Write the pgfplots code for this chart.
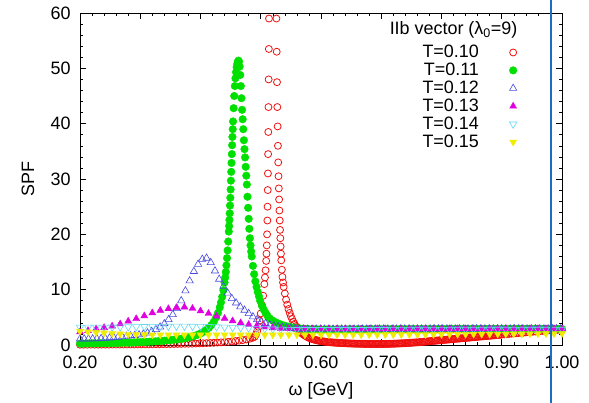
\documentclass[border=0pt]{standalone}
\usepackage{fontspec}
\setmainfont{Liberation Sans}
\usepackage{pgfplots}
\pgfplotsset{compat=1.18}
\definecolor{cRed}{HTML}{F01010}
\definecolor{cGreen}{HTML}{00E000}
\definecolor{cBlue}{HTML}{4848E0}
\definecolor{cMag}{HTML}{E000E0}
\definecolor{cCyan}{HTML}{60D8F0}
\definecolor{cYel}{HTML}{F0EC00}
\definecolor{cLine}{HTML}{1E6EC0}
\newcommand{\fs}{\fontsize{18}{18}\selectfont}
\begin{document}
\begin{tikzpicture}
\begin{axis}[
  scale only axis,
  width=482bp, height=332bp,
  xmin=0.2, xmax=1.0, ymin=0, ymax=60,
  xtick={0.2,0.3,0.4,0.5,0.6,0.7,0.8,0.9,1.0},
  ytick={0,10,20,30,40,50,60},
  minor x tick num=4, minor y tick num=4,
  tick align=inside,
  major tick length=6bp, minor tick length=3bp,
  tick style={black, line width=0.5pt},
  axis line style={black, line width=0.7pt},
  /pgf/number format/assume math mode=true,
  ticklabel style={font=\fs},
  xticklabel style={/pgf/number format/fixed, /pgf/number format/fixed zerofill,
    /pgf/number format/precision=2, yshift=-7bp},
  yticklabel style={xshift=-6bp},
  xlabel={ω [GeV]}, ylabel={SPF},
  label style={font=\fs},
  x label style={at={(axis description cs:0.5,-0.1386)}, anchor=center},
  y label style={at={(axis description cs:-0.1079,0.5)}, anchor=center},
  legend plot pos=right,
  legend cell align=right,
  legend image code/.code={\draw[#1] plot coordinates {(0bp,0bp)};},
  legend style={draw=none, fill=none, font=\fs, inner sep=0pt,
    at={(rel axis cs:0.907,0.9073)}, anchor=north east,
    nodes={inner sep=1.5bp}, row sep=0.9bp,
    /tikz/every odd column/.append style={column sep=29bp}},
]
% T=0.10
\addplot[only marks, mark=o, mark size=3.5bp, color=cRed, mark options={line width=0.8pt}] coordinates {
(0.200,0.05) (0.206,0.05) (0.212,0.05) (0.218,0.06) (0.224,0.06) (0.230,0.06) (0.236,0.07) (0.242,0.07)
(0.248,0.07) (0.254,0.08) (0.260,0.08) (0.266,0.08) (0.272,0.09) (0.278,0.09) (0.284,0.10) (0.290,0.10)
(0.296,0.11) (0.302,0.11) (0.308,0.12) (0.314,0.12) (0.320,0.13) (0.326,0.14) (0.332,0.14) (0.338,0.15)
(0.344,0.16) (0.350,0.17) (0.356,0.18) (0.362,0.19) (0.368,0.20) (0.374,0.22) (0.380,0.23) (0.386,0.25)
(0.392,0.27) (0.398,0.29) (0.404,0.31) (0.410,0.34) (0.416,0.37) (0.422,0.40) (0.428,0.44) (0.434,0.48)
(0.440,0.53) (0.446,0.58) (0.452,0.64) (0.458,0.71) (0.464,0.79) (0.470,0.88) (0.476,1.00) (0.482,1.15)
(0.486,1.30) (0.488,1.38) (0.490,1.50) (0.492,1.90) (0.494,2.50) (0.496,3.30) (0.498,4.40) (0.500,5.70)
(0.502,7.20) (0.504,8.90) (0.506,11.0) (0.507,12.2) (0.508,13.5) (0.509,15.2) (0.5095,16.5) (0.510,18.0)
(0.5105,20.0) (0.511,22.5) (0.5113,25.0) (0.5116,28.0) (0.5119,31.0) (0.5122,34.5) (0.5125,38.5)
(0.5128,43.0) (0.5131,48.0) (0.5134,53.5) (0.5137,59.0)
(0.5260,59.0) (0.5265,53.0) (0.5270,47.5) (0.5275,43.0) (0.5280,39.5) (0.5285,36.0) (0.5290,33.0)
(0.5295,30.5) (0.5300,28.3) (0.5305,26.3) (0.5310,24.3) (0.5315,22.5) (0.5320,20.8) (0.5325,19.3)
(0.5330,17.8) (0.5335,16.5) (0.5340,15.3) (0.535,13.6) (0.536,12.3) (0.537,11.3) (0.538,10.5) (0.540,9.3)
(0.542,8.2) (0.544,7.3) (0.546,6.5) (0.548,5.8) (0.550,5.2) (0.552,4.7) (0.554,4.2) (0.556,3.8)
(0.558,3.4) (0.560,3.1) (0.562,2.8) (0.564,2.55) (0.566,2.3) (0.568,2.1) (0.570,1.95) (0.572,1.8)
(0.574,1.65) (0.576,1.52) (0.578,1.40) (0.580,1.30) (0.582,1.21) (0.584,1.13) (0.586,1.06) (0.588,0.99)
(0.590,0.93) (0.592,0.88) (0.594,0.83) (0.596,0.78) (0.598,0.74) (0.600,0.70) (0.602,0.67) (0.604,0.64)
(0.606,0.61) (0.608,0.58) (0.610,0.55) (0.612,0.53) (0.614,0.51) (0.616,0.49) (0.618,0.47) (0.620,0.45)
(0.622,0.43) (0.624,0.42) (0.626,0.40) (0.628,0.39) (0.630,0.37) (0.632,0.36) (0.634,0.35) (0.636,0.34)
(0.638,0.33) (0.640,0.32) (0.642,0.31) (0.644,0.30) (0.646,0.29) (0.648,0.28) (0.650,0.27) (0.652,0.26)
(0.654,0.25) (0.656,0.25) (0.658,0.24) (0.660,0.23) (0.662,0.23) (0.664,0.22) (0.666,0.22) (0.668,0.21)
(0.670,0.21) (0.672,0.20) (0.674,0.20) (0.676,0.20) (0.678,0.19) (0.680,0.19) (0.682,0.19) (0.684,0.19)
(0.686,0.18) (0.688,0.18) (0.690,0.18) (0.692,0.18) (0.694,0.18) (0.696,0.18) (0.698,0.18) (0.700,0.18)
(0.702,0.19) (0.704,0.19) (0.706,0.19) (0.708,0.20) (0.710,0.20) (0.712,0.21) (0.714,0.21) (0.716,0.22)
(0.718,0.23) (0.720,0.23) (0.722,0.24) (0.724,0.25) (0.726,0.26) (0.728,0.27) (0.730,0.28) (0.732,0.29)
(0.734,0.30) (0.736,0.31) (0.738,0.32) (0.740,0.33) (0.742,0.35) (0.744,0.36) (0.746,0.38) (0.748,0.39)
(0.750,0.41) (0.752,0.42) (0.754,0.44) (0.756,0.45) (0.758,0.47) (0.760,0.49) (0.762,0.50) (0.764,0.52)
(0.766,0.54) (0.768,0.56) (0.770,0.58) (0.772,0.60) (0.774,0.62) (0.776,0.64) (0.778,0.66) (0.780,0.68)
(0.782,0.70) (0.784,0.72) (0.786,0.74) (0.788,0.76) (0.790,0.78) (0.792,0.80) (0.794,0.82) (0.796,0.84)
(0.798,0.86) (0.800,0.88) (0.802,0.90) (0.804,0.92) (0.806,0.94) (0.808,0.96) (0.810,0.98) (0.812,1.00)
(0.814,1.02) (0.816,1.04) (0.818,1.06) (0.820,1.08) (0.822,1.10) (0.824,1.12) (0.826,1.14) (0.828,1.16)
(0.830,1.18) (0.832,1.20) (0.834,1.22) (0.836,1.24) (0.838,1.26) (0.840,1.28) (0.842,1.30) (0.844,1.32)
(0.846,1.34) (0.848,1.36) (0.850,1.38) (0.852,1.40) (0.854,1.42) (0.856,1.44) (0.858,1.46) (0.860,1.48)
(0.862,1.50) (0.864,1.52) (0.866,1.54) (0.868,1.56) (0.870,1.58) (0.872,1.60) (0.874,1.62) (0.876,1.64)
(0.878,1.66) (0.880,1.68) (0.882,1.70) (0.884,1.72) (0.886,1.74) (0.888,1.76) (0.890,1.78) (0.892,1.80)
(0.894,1.82) (0.896,1.84) (0.898,1.86) (0.900,1.88) (0.904,1.92) (0.908,1.96) (0.912,2.00) (0.916,2.04)
(0.920,2.08) (0.924,2.12) (0.928,2.16) (0.932,2.20) (0.936,2.24) (0.940,2.28) (0.944,2.32) (0.948,2.36)
(0.952,2.40) (0.956,2.44) (0.960,2.48) (0.964,2.52) (0.968,2.55) (0.972,2.58) (0.976,2.61) (0.980,2.64)
(0.984,2.67) (0.988,2.70) (0.992,2.73) (0.996,2.76) (1.000,2.78)
};
\addlegendentry{T=0.10}
% T=0.11
\addplot[only marks, mark=*, mark size=3.8bp, color=cGreen] coordinates {
(0.200,0.25) (0.205,0.26) (0.210,0.27) (0.215,0.28) (0.220,0.29) (0.225,0.30) (0.230,0.31) (0.235,0.32)
(0.240,0.33) (0.245,0.34) (0.250,0.35) (0.255,0.36) (0.260,0.38) (0.265,0.39) (0.270,0.41) (0.275,0.42)
(0.280,0.44) (0.285,0.46) (0.290,0.48) (0.295,0.50) (0.300,0.52) (0.305,0.55) (0.310,0.57) (0.315,0.60)
(0.320,0.63) (0.325,0.66) (0.330,0.70) (0.335,0.74) (0.340,0.78) (0.345,0.83) (0.350,0.88) (0.355,0.94)
(0.360,1.00) (0.365,1.08) (0.370,1.16) (0.375,1.26) (0.380,1.37) (0.385,1.50) (0.390,1.66) (0.395,1.85)
(0.400,2.08) (0.405,2.37) (0.410,2.75) (0.414,3.10) (0.418,3.60) (0.422,4.20) (0.426,5.00) (0.429,5.80)
(0.432,6.80) (0.434,7.70) (0.436,8.70) (0.438,9.90) (0.440,11.3) (0.441,12.2) (0.442,13.2) (0.443,14.4)
(0.444,15.7) (0.445,17.1) (0.446,18.7) (0.447,20.5) (0.4475,21.5) (0.448,22.6) (0.4485,23.8) (0.449,25.2)
(0.4495,26.6) (0.450,28.1) (0.4505,29.7) (0.451,31.3) (0.4515,32.9) (0.452,34.5) (0.4525,36.1) (0.453,37.6)
(0.4535,39.0) (0.454,40.4) (0.455,42.8) (0.456,45.0) (0.457,46.8) (0.458,48.2) (0.459,49.3) (0.460,50.2)
(0.461,50.8) (0.462,51.2) (0.463,51.4) (0.464,51.2) (0.465,50.3) (0.466,48.8) (0.467,46.8) (0.468,44.6)
(0.469,42.5) (0.470,40.8) (0.471,39.0) (0.472,37.0) (0.473,35.4) (0.474,33.9) (0.475,32.2) (0.476,30.6)
(0.477,29.0) (0.478,26.8) (0.479,24.8) (0.480,22.8) (0.481,21.0) (0.482,19.3) (0.483,18.0) (0.484,16.9)
(0.485,16.0) (0.487,14.3) (0.489,12.8) (0.491,11.5) (0.493,10.5) (0.495,9.6) (0.497,8.8) (0.499,8.0)
(0.502,7.1) (0.505,6.4) (0.508,5.8) (0.511,5.3) (0.515,4.8) (0.520,4.4) (0.525,4.1) (0.530,3.85)
(0.535,3.65) (0.540,3.48) (0.545,3.34) (0.550,3.22) (0.555,3.12) (0.560,3.04) (0.565,2.98) (0.570,2.93)
(0.575,2.89) (0.580,2.86) (0.585,2.84) (0.590,2.82) (0.595,2.81) (0.600,2.81) (0.605,2.81) (0.610,2.81)
(0.615,2.81) (0.620,2.81) (0.625,2.82) (0.630,2.82) (0.635,2.82) (0.640,2.82) (0.645,2.82) (0.650,2.83)
(0.655,2.83) (0.660,2.83) (0.665,2.83) (0.670,2.83) (0.675,2.84) (0.680,2.84) (0.685,2.84) (0.690,2.84)
(0.695,2.84) (0.700,2.85) (0.705,2.85) (0.710,2.85) (0.715,2.85) (0.720,2.85) (0.725,2.86) (0.730,2.86)
(0.735,2.86) (0.740,2.86) (0.745,2.86) (0.750,2.87) (0.755,2.87) (0.760,2.87) (0.765,2.87) (0.770,2.87)
(0.775,2.87) (0.780,2.88) (0.785,2.88) (0.790,2.88) (0.795,2.88) (0.800,2.88) (0.805,2.88) (0.810,2.89)
(0.815,2.89) (0.820,2.89) (0.825,2.89) (0.830,2.89) (0.835,2.89) (0.840,2.89) (0.845,2.90) (0.850,2.90)
(0.855,2.90) (0.860,2.90) (0.865,2.90) (0.870,2.90) (0.875,2.90) (0.880,2.90) (0.885,2.91) (0.890,2.91)
(0.895,2.91) (0.900,2.91) (0.905,2.91) (0.910,2.91) (0.915,2.91) (0.920,2.91) (0.925,2.91) (0.930,2.92)
(0.935,2.92) (0.940,2.92) (0.945,2.92) (0.950,2.92) (0.955,2.92) (0.960,2.92) (0.965,2.92) (0.970,2.92)
(0.975,2.92) (0.980,2.92) (0.985,2.92) (0.990,2.92) (0.995,2.92) (1.000,2.92)
};
\addlegendentry{T=0.11}
% T=0.12
\addplot[only marks, mark=triangle, mark size=4.2bp, color=cBlue, mark options={line width=0.6pt}] coordinates {
(0.200,1.10) (0.207,1.10) (0.214,1.11) (0.221,1.12) (0.228,1.14) (0.235,1.17) (0.242,1.22) (0.249,1.28)
(0.256,1.35) (0.263,1.42) (0.270,1.50) (0.277,1.58) (0.284,1.66) (0.291,1.74) (0.298,1.84) (0.305,1.98)
(0.312,2.18) (0.319,2.45) (0.326,2.80) (0.333,3.25) (0.340,3.85) (0.347,4.60) (0.354,5.50) (0.361,6.60)
(0.368,8.00) (0.375,9.80) (0.382,11.6) (0.389,13.3) (0.396,14.6) (0.403,15.5) (0.410,15.7) (0.417,14.9)
(0.424,13.4) (0.431,11.9) (0.438,10.6) (0.445,9.4) (0.452,8.4) (0.459,7.6) (0.466,6.9) (0.473,6.3)
(0.480,5.7) (0.487,5.1) (0.494,4.6) (0.501,4.2) (0.508,3.9) (0.515,3.65) (0.522,3.45) (0.529,3.3)
(0.536,3.17) (0.543,3.07) (0.550,3.0) (0.557,2.95) (0.564,2.91) (0.571,2.89) (0.578,2.88) (0.585,2.88)
(0.592,2.88) (0.599,2.88) (0.606,2.88) (0.613,2.88) (0.620,2.88) (0.627,2.88) (0.634,2.88) (0.641,2.88)
(0.648,2.88) (0.655,2.88) (0.662,2.88) (0.669,2.88) (0.676,2.89) (0.683,2.89) (0.690,2.89) (0.697,2.89)
(0.704,2.89) (0.711,2.89) (0.718,2.89) (0.725,2.89) (0.732,2.89) (0.739,2.89) (0.746,2.90) (0.753,2.90)
(0.760,2.90) (0.767,2.90) (0.774,2.90) (0.781,2.90) (0.788,2.90) (0.795,2.90) (0.802,2.90) (0.809,2.91)
(0.816,2.91) (0.823,2.91) (0.830,2.91) (0.837,2.91) (0.844,2.91) (0.851,2.91) (0.858,2.91) (0.865,2.91)
(0.872,2.91) (0.879,2.92) (0.886,2.92) (0.893,2.92) (0.900,2.92) (0.907,2.92) (0.914,2.92) (0.921,2.92)
(0.928,2.92) (0.935,2.92) (0.942,2.92) (0.949,2.92) (0.956,2.92) (0.963,2.92) (0.970,2.92) (0.977,2.92)
(0.984,2.92) (0.991,2.92) (0.998,2.92)
};
\addlegendentry{T=0.12}
% T=0.13
\addplot[only marks, mark=triangle*, mark size=4bp, color=cMag] coordinates {
(0.2000,2.35) (0.2133,2.60) (0.2267,2.90) (0.2400,3.15) (0.2533,3.40) (0.2667,3.80) (0.2800,4.30)
(0.2933,4.75) (0.3067,5.25) (0.3200,5.80) (0.3333,6.25) (0.3467,6.55) (0.3600,6.75) (0.3733,6.85)
(0.3867,6.60) (0.4000,6.15) (0.4133,5.70) (0.4267,5.20) (0.4400,4.80) (0.4533,4.35) (0.4667,4.00)
(0.4800,3.70) (0.4933,3.45) (0.5067,3.25) (0.5200,3.10) (0.5333,3.00) (0.5467,2.94) (0.5600,2.91)
(0.5733,2.90) (0.5867,2.90) (0.6000,2.90) (0.6133,2.90) (0.6267,2.90) (0.6400,2.90) (0.6533,2.90)
(0.6667,2.90) (0.6800,2.90) (0.6933,2.91) (0.7067,2.91) (0.7200,2.91) (0.7333,2.91) (0.7467,2.91)
(0.7600,2.92) (0.7733,2.92) (0.7867,2.92) (0.8000,2.92) (0.8133,2.92) (0.8267,2.92) (0.8400,2.93)
(0.8533,2.93) (0.8667,2.93) (0.8800,2.93) (0.8933,2.93) (0.9067,2.93) (0.9200,2.93) (0.9333,2.93)
(0.9467,2.93) (0.9600,2.93) (0.9733,2.93) (0.9867,2.93) (1.0000,2.93)
};
\addlegendentry{T=0.13}
% T=0.14
\addplot[only marks, mark=triangle, mark size=4.2bp, color=cCyan, mark options={rotate=180, line width=0.6pt}] coordinates {
(0.2000,3.20) (0.2133,3.20) (0.2267,3.20) (0.2400,3.22) (0.2533,3.24) (0.2667,3.26) (0.2800,3.28)
(0.2933,3.30) (0.3067,3.32) (0.3200,3.34) (0.3333,3.36) (0.3467,3.37) (0.3600,3.38) (0.3733,3.38)
(0.3867,3.37) (0.4000,3.35) (0.4133,3.32) (0.4267,3.28) (0.4400,3.22) (0.4533,3.16) (0.4667,3.10)
(0.4800,3.04) (0.4933,2.98) (0.5067,2.93) (0.5200,2.88) (0.5333,2.84) (0.5467,2.81) (0.5600,2.79)
(0.5733,2.78) (0.5867,2.78) (0.6000,2.78) (0.6133,2.78) (0.6267,2.78) (0.6400,2.78) (0.6533,2.79)
(0.6667,2.79) (0.6800,2.79) (0.6933,2.79) (0.7067,2.79) (0.7200,2.80) (0.7333,2.80) (0.7467,2.80)
(0.7600,2.80) (0.7733,2.80) (0.7867,2.81) (0.8000,2.81) (0.8133,2.81) (0.8267,2.81) (0.8400,2.81)
(0.8533,2.82) (0.8667,2.82) (0.8800,2.82) (0.8933,2.82) (0.9067,2.82) (0.9200,2.83) (0.9333,2.83)
(0.9467,2.83) (0.9600,2.83) (0.9733,2.83) (0.9867,2.83) (1.0000,2.83)
};
\addlegendentry{T=0.14}
% T=0.15
\addplot[only marks, mark=triangle*, mark size=4bp, color=cYel, mark options={rotate=180}] coordinates {
(0.2000,2.45) (0.2133,2.38) (0.2267,2.28) (0.2400,2.18) (0.2533,2.08) (0.2667,2.00) (0.2800,1.94)
(0.2933,1.90) (0.3067,1.87) (0.3200,1.85) (0.3333,1.84) (0.3467,1.83) (0.3600,1.83) (0.3733,1.83)
(0.3867,1.83) (0.4000,1.83) (0.4133,1.83) (0.4267,1.83) (0.4400,1.83) (0.4533,1.83) (0.4667,1.83)
(0.4800,1.83) (0.4933,1.83) (0.5067,1.83) (0.5200,1.83) (0.5333,1.83) (0.5467,1.83) (0.5600,1.83)
(0.5733,1.83) (0.5867,1.83) (0.6000,1.83) (0.6133,1.84) (0.6267,1.84) (0.6400,1.84) (0.6533,1.85)
(0.6667,1.85) (0.6800,1.86) (0.6933,1.86) (0.7067,1.87) (0.7200,1.87) (0.7333,1.88) (0.7467,1.88)
(0.7600,1.89) (0.7733,1.89) (0.7867,1.90) (0.8000,1.91) (0.8133,1.92) (0.8267,1.93) (0.8400,1.94)
(0.8533,1.95) (0.8667,1.96) (0.8800,1.97) (0.8933,1.98) (0.9067,1.99) (0.9200,2.00) (0.9333,2.01)
(0.9467,2.03) (0.9600,2.04) (0.9733,2.05) (0.9867,2.07) (1.0000,2.08)
};
\addlegendentry{T=0.15}
\node[font=\fs] at (rel axis cs:0.775,0.949) {IIb vector (λ\textsubscript{0}=9)};
\end{axis}
\draw[cLine, line width=2bp] ([xshift=471bp,yshift=-58bp]current axis.south west) -- ++(0,403bp);
\pgfresetboundingbox
\path[use as bounding box] ([xshift=-80bp,yshift=-58bp]current axis.south west) rectangle ++(589bp,403bp);
\end{tikzpicture}
\end{document}
